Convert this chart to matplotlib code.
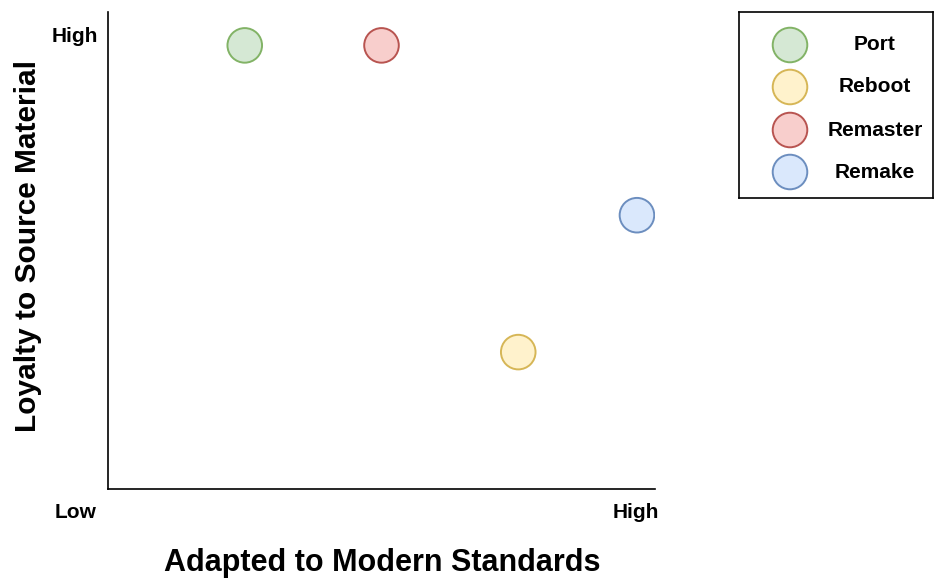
import matplotlib
matplotlib.use("Agg")
import matplotlib.pyplot as plt

plt.rcParams["font.family"] = ["Liberation Sans", "DejaVu Sans"]
plt.rcParams["font.weight"] = "bold"

# Data: position on a 0-10 scale (x = adapted to modern standards, y = loyalty)
labels = ["Port", "Reboot", "Remaster", "Remake"]
x_vals = [2.5, 7.5, 5.0, 9.67]
y_vals = [9.3, 2.87, 9.3, 5.74]
fills = ["#d5e8d4", "#fff2cc", "#f8cecc", "#dae8fc"]
edges = ["#82b366", "#d6b656", "#b85450", "#6c8ebf"]

W, H = 935, 583
fig = plt.figure(figsize=(W / 100, H / 100), dpi=100)

# main axes, placed in pixel terms
ax = fig.add_axes([108 / W, 1 - 489 / H, 547 / W, 477 / H])
ax.set_xlim(0, 10)
ax.set_ylim(0, 10)
ax.scatter(x_vals, y_vals, s=620, c=fills, edgecolors=edges, linewidths=1.4, zorder=3)
for side in ["top", "right"]:
    ax.spines[side].set_visible(False)
for side in ["left", "bottom"]:
    ax.spines[side].set_linewidth(1.2)
ax.set_xticks([])
ax.set_yticks([])

# end labels
ax.text(-0.6, 9.48, "High", ha="center", va="center", fontsize=15, fontweight="bold", clip_on=False)
ax.text(-0.6, -0.5, "Low", ha="center", va="center", fontsize=15, fontweight="bold", clip_on=False)
ax.text(9.65, -0.5, "High", ha="center", va="center", fontsize=15, fontweight="bold", clip_on=False)

fig.text(382 / W, 1 - 563 / H, "Adapted to Modern Standards", ha="center", va="center",
         fontsize=22, fontweight="bold")
fig.text(28 / W, 1 - 246 / H, "Loyalty to Source Material", ha="center", va="center",
         rotation=90, fontsize=21.5, fontweight="bold")

# legend drawn as its own small axes with a black box
lax = fig.add_axes([739 / W, 1 - 198 / H, 194 / W, 186 / H])
lax.set_xlim(0, 194)
lax.set_ylim(186, 0)
lax.set_xticks([])
lax.set_yticks([])
for sp in lax.spines.values():
    sp.set_linewidth(1.2)
leg_y = [33, 75, 118, 160]
lax.scatter([51] * len(labels), leg_y, s=620, c=fills, edgecolors=edges, linewidths=1.4)
for lab, yy in zip(labels, leg_y):
    lax.text(136, yy, lab, ha="center", va="center", fontsize=15, fontweight="bold")

fig.savefig("out.png", dpi=100)
